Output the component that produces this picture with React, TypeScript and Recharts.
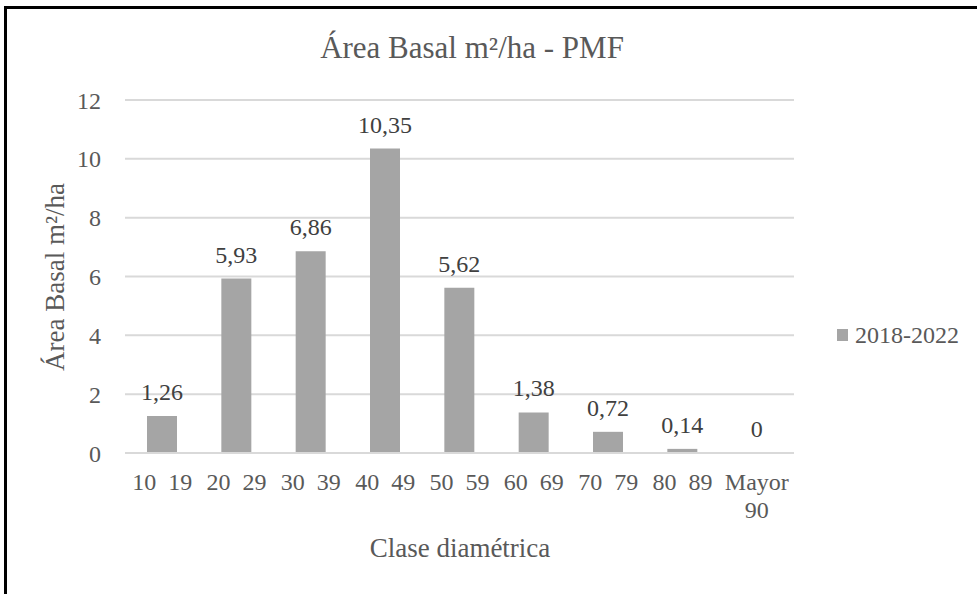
import { BarChart, Bar, XAxis, YAxis, CartesianGrid, LabelList } from "recharts";

const FONT = '"Liberation Serif", "Times New Roman", Times, serif';

const clases = ["10  19", "20  29", "30  39", "40  49", "50  59", "60  69", "70  79", "80  89", "Mayor\n90"];
const areaBasal = [1.26, 5.93, 6.86, 10.35, 5.62, 1.38, 0.72, 0.14, 0];
const yTicks = [0, 2, 4, 6, 8, 10, 12];
const serie = "2018-2022";

const fmt = (v: any) => String(v).replace(".", ",");

function ClaseTick(props: any) {
  const { x, y, payload } = props;
  const lines = String(payload.value).split("\n");
  return (
    <text x={x} y={y} textAnchor="middle" fill="#595959" fontSize={24} fontFamily={FONT} style={{ whiteSpace: "pre" }}>
      {lines.map((l, i) => (
        <tspan key={i} x={x} dy={i === 0 ? 35 : 28}>
          {l}
        </tspan>
      ))}
    </text>
  );
}

export default function App() {
  const data = clases.map((c, i) => ({ clase: c, area: areaBasal[i] }));

  return (
    <div style={{ position: "absolute", left: 0, top: 0, width: 977, height: 594, background: "#fff", overflow: "hidden", fontFamily: FONT }}>
      <div
        style={{
          position: "absolute",
          left: 4,
          top: 6,
          width: 1000,
          height: 700,
          borderLeft: "3px solid #000",
          borderTop: "3px solid #000",
        }}
      />
      <div style={{ position: "absolute", left: 0, top: 0 }}>
        <BarChart width={977} height={594} data={data} margin={{ top: 100, right: 183, bottom: 111, left: 0 }}>
          <CartesianGrid vertical={false} stroke="#d9d9d9" strokeWidth={2} />
          <XAxis
            dataKey="clase"
            height={30}
            interval={0}
            axisLine={{ stroke: "#d9d9d9", strokeWidth: 2 }}
            tickLine={false}
            tickSize={0}
            tick={<ClaseTick />}
          />
          <YAxis
            width={125}
            domain={[0, 12]}
            ticks={yTicks}
            axisLine={false}
            tickLine={false}
            tickSize={0}
            tickMargin={24}
            tick={{ fill: "#595959", fontSize: 24, fontFamily: FONT }}
          />
          <Bar dataKey="area" fill="#a5a5a5" barSize={30} minPointSize={0.01} isAnimationActive={false}>
            <LabelList
              dataKey="area"
              position="top"
              offset={16}
              formatter={fmt}
              style={{ fill: "#404040", fontSize: 24, fontFamily: FONT }}
            />
          </Bar>
        </BarChart>
      </div>
      <svg width={977} height={594} style={{ position: "absolute", left: 0, top: 0, pointerEvents: "none" }}>
        <text x={472} y={58} textAnchor="middle" fill="#595959" fontSize={31} fontFamily={FONT}>
          Área Basal m²/ha - PMF
        </text>
        <text transform="translate(64,277) rotate(-90)" textAnchor="middle" fill="#595959" fontSize={27} fontFamily={FONT}>
          Área Basal m²/ha
        </text>
        <text x={460} y={557} textAnchor="middle" fill="#595959" fontSize={27} fontFamily={FONT}>
          Clase diamétrica
        </text>
        <rect x={837} y={329} width={11} height={12} fill="#a5a5a5" />
        <text x={855} y={343} fill="#595959" fontSize={24} fontFamily={FONT}>
          {serie}
        </text>
      </svg>
    </div>
  );
}
